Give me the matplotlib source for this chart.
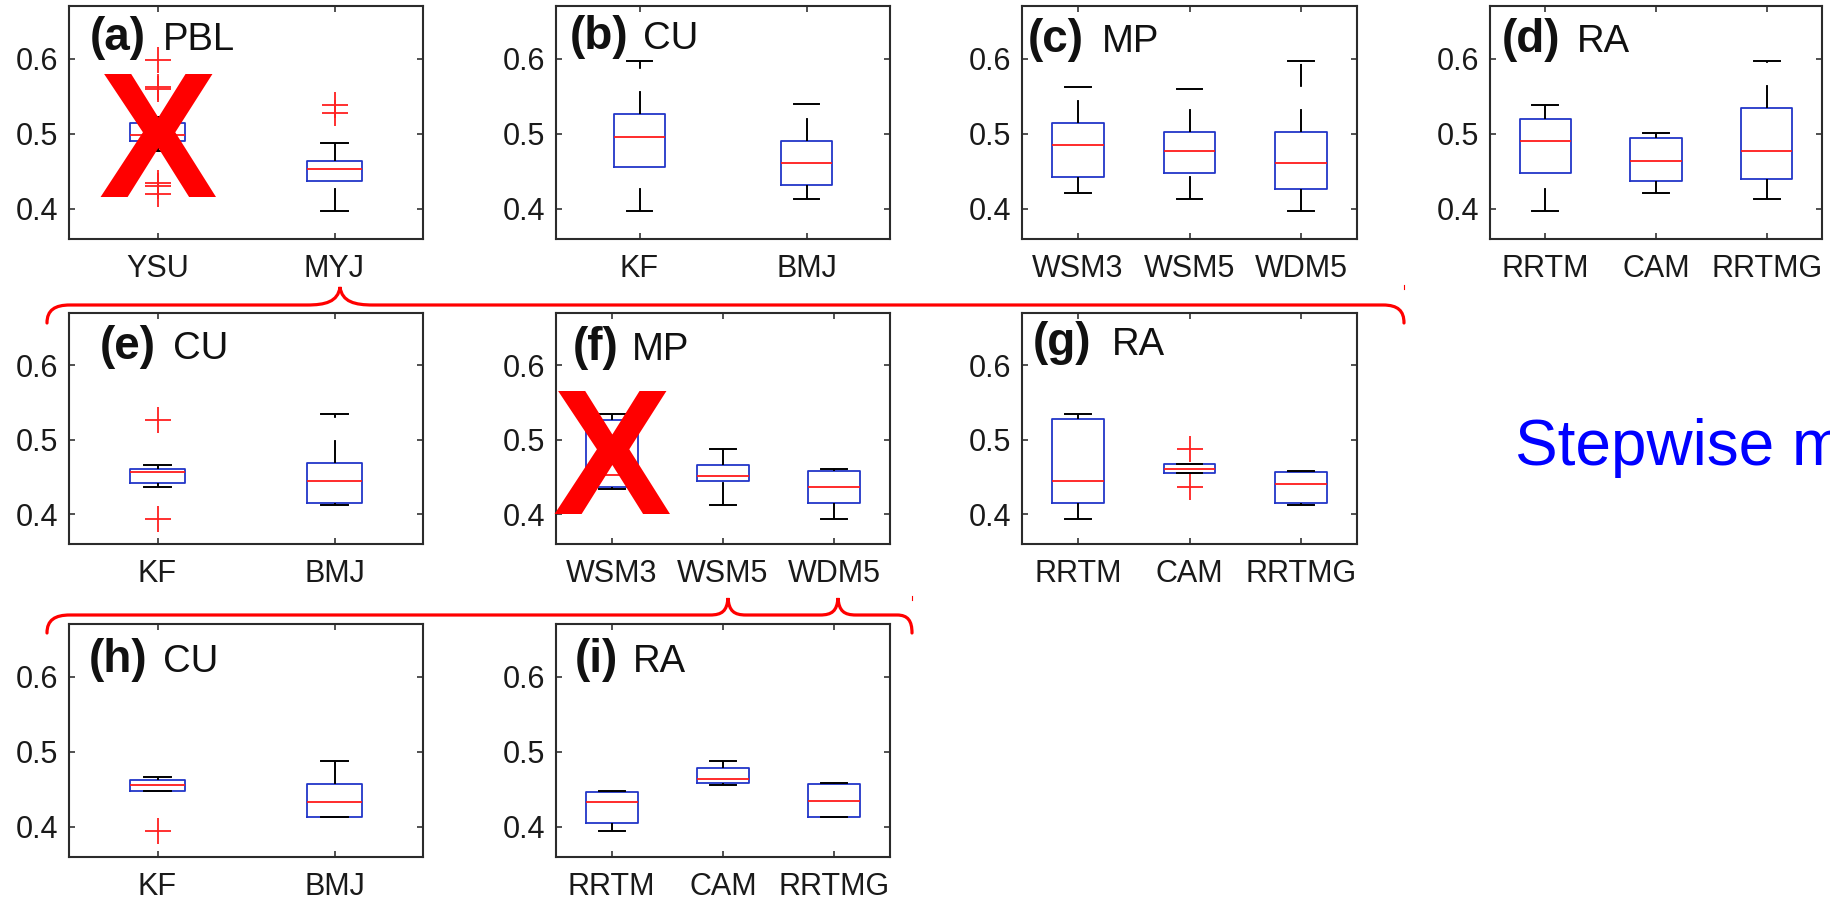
import matplotlib
matplotlib.use("Agg")
import matplotlib.pyplot as plt
from matplotlib.path import Path
from matplotlib.patches import PathPatch
from matplotlib.lines import Line2D

plt.rcParams['font.family'] = ['Liberation Sans', 'DejaVu Sans']
plt.rcParams['lines.scale_dashes'] = False

W, H = 1830, 905

# box statistics per scheme: (whislo, q1, median, q3, whishi)
a_names = ["YSU", "MYJ"]
a_boxes = [(0.477, 0.491, 0.498, 0.514, 0.522), (0.397, 0.437, 0.453, 0.464, 0.488)]
a_fliers = [[0.598, 0.562, 0.559, 0.434, 0.431, 0.420], [0.538, 0.528]]

b_names = ["KF", "BMJ"]
b_boxes = [(0.397, 0.456, 0.496, 0.526, 0.597), (0.413, 0.432, 0.461, 0.491, 0.539)]
b_fliers = [[], []]

c_names = ["WSM3", "WSM5", "WDM5"]
c_boxes = [(0.421, 0.443, 0.485, 0.514, 0.562), (0.413, 0.448, 0.477, 0.503, 0.560),
           (0.397, 0.427, 0.461, 0.503, 0.597)]
c_fliers = [[], [], []]

d_names = ["RRTM", "CAM", "RRTMG"]
d_boxes = [(0.397, 0.448, 0.490, 0.520, 0.538), (0.421, 0.437, 0.464, 0.494, 0.501),
           (0.413, 0.440, 0.477, 0.534, 0.597)]
d_fliers = [[], [], []]

e_names = ["KF", "BMJ"]
e_boxes = [(0.437, 0.442, 0.456, 0.461, 0.466), (0.413, 0.415, 0.445, 0.469, 0.535)]
e_fliers = [[0.527, 0.394], []]

f_names = ["WSM3", "WSM5", "WDM5"]
f_boxes = [(0.434, 0.436, 0.453, 0.527, 0.535), (0.413, 0.445, 0.451, 0.466, 0.488),
           (0.394, 0.415, 0.437, 0.458, 0.461)]
f_fliers = [[], [], []]

g_names = ["RRTM", "CAM", "RRTMG"]
g_boxes = [(0.394, 0.415, 0.445, 0.528, 0.535), (0.455, 0.455, 0.461, 0.467, 0.467),
           (0.413, 0.415, 0.440, 0.456, 0.458)]
g_fliers = [[], [0.488, 0.437], []]

h_names = ["KF", "BMJ"]
h_boxes = [(0.448, 0.448, 0.456, 0.462, 0.467), (0.413, 0.413, 0.433, 0.457, 0.488)]
h_fliers = [[0.395], []]

i_names = ["RRTM", "CAM", "RRTMG"]
i_boxes = [(0.395, 0.405, 0.433, 0.446, 0.448), (0.456, 0.458, 0.464, 0.478, 0.488),
           (0.413, 0.413, 0.435, 0.457, 0.459)]
i_fliers = [[], [], []]

yticks = [0.4, 0.5, 0.6]

fig = plt.figure(figsize=(W / 100, H / 100), dpi=100)


def px(x, y):
    """pixel position (from top-left) -> figure fraction"""
    return x / W, 1 - y / H


def draw_panel(rect, names, boxes, fliers, tag, scheme, tag_xy, scheme_x):
    left, top, right, bottom = rect
    ax = fig.add_axes([left / W, 1 - bottom / H, (right - left) / W, (bottom - top) / H])
    stats = []
    for name, (lo, q1, med, q3, hi), fl in zip(names, boxes, fliers):
        stats.append(dict(label=name, whislo=lo, q1=q1, med=med, q3=q3, whishi=hi, fliers=fl))
    n = len(names)
    art = ax.bxp(stats, widths=0.155 * n,
                 boxprops=dict(color='#2236c8', lw=1.3),
                 medianprops=dict(color='#ff1a1a', lw=1.3),
                 whiskerprops=dict(color='black', lw=1.4, linestyle=(0, (16.5, 16))),
                 capprops=dict(color='black', lw=1.4),
                 flierprops=dict(marker='+', markeredgecolor='#ff2020', markersize=19,
                                 markeredgewidth=1.3, linestyle='none'))
    # lower whiskers run from the cap up to the box
    for w in art['whiskers'][::2]:
        w.set_ydata(w.get_ydata()[::-1])

    ax.set_xlim(0.5, n + 0.5)
    ax.set_ylim(0.36, 0.67)
    ax.set_yticks(yticks)
    ax.set_yticklabels([f"{t:.1f}" for t in yticks])
    ax.tick_params(axis='both', direction='in', top=True, right=True, length=4, width=1.2,
                   labelsize=22, labelcolor='#1a1a1a', color='#333333')
    ax.tick_params(axis='y', pad=8)
    ax.tick_params(axis='x', pad=11)
    for s in ax.spines.values():
        s.set_linewidth(1.5)
        s.set_color('#2b2b2b')

    fig.text(*px(*tag_xy), tag, fontsize=33, fontweight='bold', color='#111111',
             ha='left', va='baseline')
    fig.text(*px(scheme_x, tag_xy[1]), scheme, fontsize=27.5, color='#111111',
             ha='left', va='baseline')
    return ax


draw_panel((69, 6, 423, 239), a_names, a_boxes, a_fliers, "(a)", "PBL", (90, 50), 163)
draw_panel((556, 6, 890, 239), b_names, b_boxes, b_fliers, "(b)", "CU", (570, 49), 643)
draw_panel((1022, 6, 1357, 239), c_names, c_boxes, c_fliers, "(c)", "MP", (1028, 52), 1102)
draw_panel((1490, 6, 1822, 239), d_names, d_boxes, d_fliers, "(d)", "RA", (1502, 52), 1577)
draw_panel((69, 313, 423, 544), e_names, e_boxes, e_fliers, "(e)", "CU", (100, 359), 173)
draw_panel((556, 313, 890, 544), f_names, f_boxes, f_fliers, "(f)", "MP", (573, 360), 632)
draw_panel((1022, 313, 1357, 544), g_names, g_boxes, g_fliers, "(g)", "RA", (1033, 355), 1112)
draw_panel((69, 624, 423, 857), h_names, h_boxes, h_fliers, "(h)", "CU", (89, 672), 163)
draw_panel((556, 624, 890, 857), i_names, i_boxes, i_fliers, "(i)", "RA", (575, 672), 633)

# crossed-out schemes
for cx, base in [(157.5, 197), (611.5, 514)]:
    fig.text(*px(cx, base), "X", fontsize=128, fontweight='bold', color='red',
             ha='center', va='baseline')

# braces linking the steps
M, C4, L = Path.MOVETO, Path.CURVE4, Path.LINETO
brace1 = [(47, 323), (47, 310), (55, 305), (70, 305), (307, 305),
          (325, 305), (338, 302), (340, 287), (342, 302), (355, 305), (373, 305),
          (1383, 305), (1398, 305), (1404, 311), (1404, 323)]
codes1 = [M, C4, C4, C4, L, C4, C4, C4, C4, C4, C4, L, C4, C4, C4]
brace2 = [(47, 633), (47, 620), (55, 615), (70, 615), (710, 615),
          (722, 615), (727, 611), (728, 598), (729, 611), (734, 615), (746, 615),
          (820, 615), (832, 615), (837, 611), (838, 598), (839, 611), (844, 615), (856, 615),
          (897, 615), (908, 615), (912, 621), (912, 633)]
codes2 = [M, C4, C4, C4, L, C4, C4, C4, C4, C4, C4, L, C4, C4, C4, C4, C4, C4, L, C4, C4, C4]
for verts, codes in [(brace1, codes1), (brace2, codes2)]:
    path = Path([px(x, y) for x, y in verts], codes)
    fig.add_artist(PathPatch(path, transform=fig.transFigure, fill=False,
                             edgecolor='red', lw=2.3, capstyle='round'))

for x, y0, y1 in [(1404, 285, 289), (912, 596, 600)]:
    (xa, ya), (xb, yb) = px(x, y0), px(x, y1)
    fig.add_artist(Line2D([xa, xb], [ya, yb], transform=fig.transFigure, color='red', lw=0.8))

# label runs off the right edge of the canvas
fig.text(*px(1515, 465), "Stepwise method", fontsize=46, color='#0000ff',
         ha='left', va='baseline')

fig.savefig("out.png", dpi=100)
